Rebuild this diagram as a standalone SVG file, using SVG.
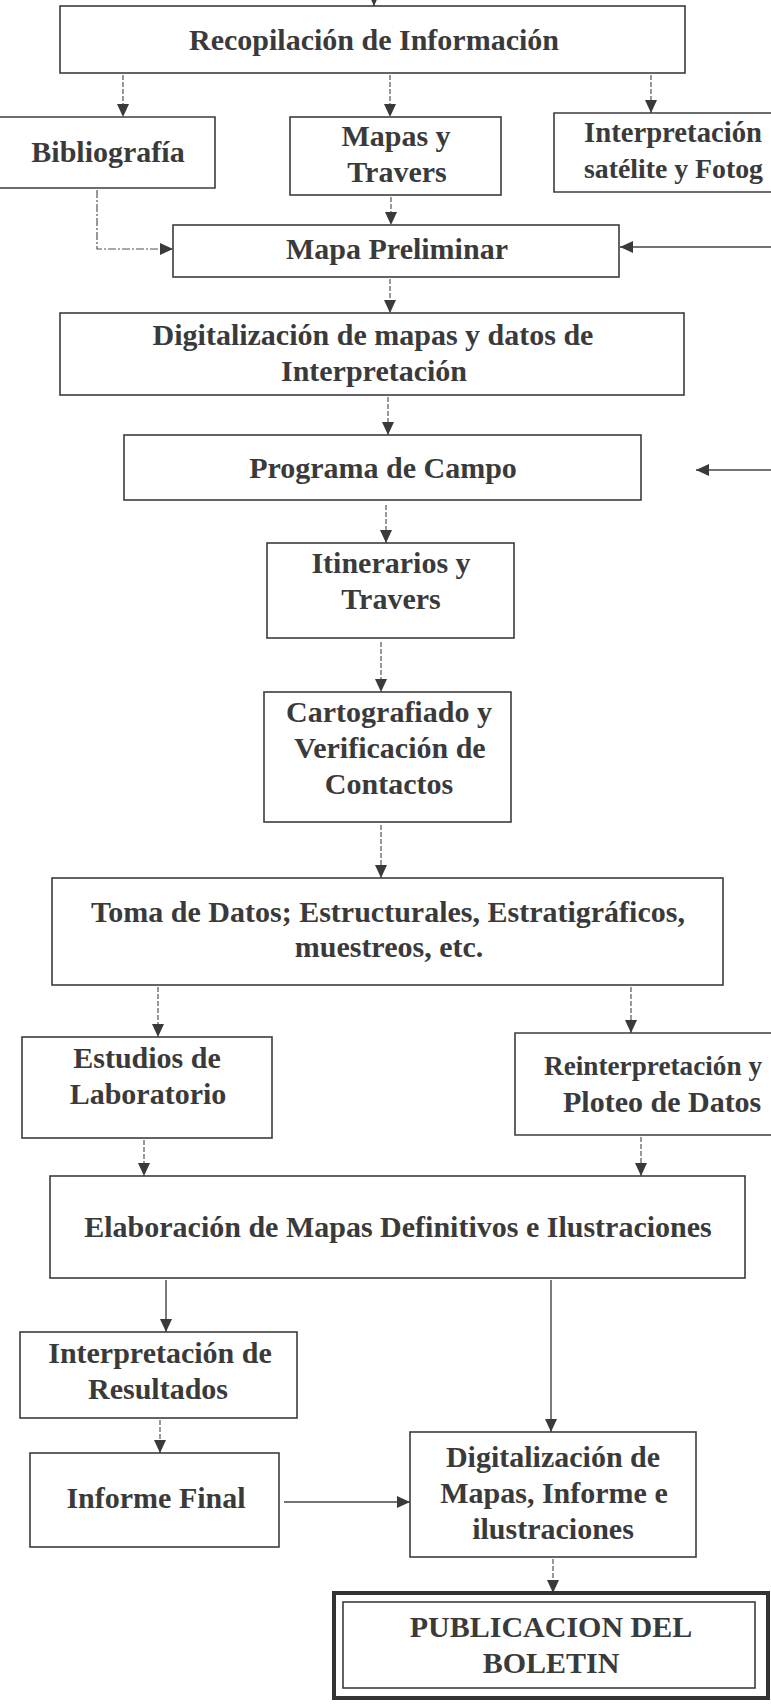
<svg xmlns="http://www.w3.org/2000/svg" width="771" height="1707" viewBox="0 0 771 1707">
<defs>
<style>
.box{fill:none;stroke:#3c3c3c;stroke-width:1.6}
.t{font-family:"Liberation Serif","Times New Roman",serif;font-weight:bold;font-size:30px;fill:#3a3a3a;text-anchor:middle}
.tl{font-family:"Liberation Serif","Times New Roman",serif;font-weight:bold;font-size:30px;fill:#3a3a3a;text-anchor:start}
.d{fill:none;stroke:#555;stroke-width:1.2;stroke-dasharray:5 2;marker-end:url(#ah)}
.dd{fill:none;stroke:#555;stroke-width:1.2;stroke-dasharray:8 2 2 2;marker-end:url(#ah)}
.s{fill:none;stroke:#444;stroke-width:1.4;marker-end:url(#ah)}
</style>
<marker id="ah" markerUnits="userSpaceOnUse" markerWidth="13" markerHeight="12" viewBox="0 0 13 12" refX="13" refY="6" orient="auto">
<path d="M0,0 L13,6 L0,12 Z" fill="#3a3a3a"/>
</marker>
</defs>
<rect width="771" height="1707" fill="#ffffff"/>

<g id="connectors">
<line class="s" x1="374" y1="-10" x2="374" y2="6"/>
<line class="d" x1="123" y1="75" x2="123" y2="117"/>
<line class="d" x1="390" y1="75" x2="390" y2="117"/>
<line class="d" x1="651" y1="75" x2="651" y2="113"/>
<line class="d" x1="391" y1="197" x2="391" y2="225"/>
<path class="dd" d="M97,190 V249 H173"/>
<line class="s" x1="771" y1="247" x2="620" y2="247"/>
<line class="d" x1="390" y1="279" x2="390" y2="313"/>
<line class="d" x1="388" y1="397" x2="388" y2="435"/>
<line class="s" x1="771" y1="470" x2="696" y2="470"/>
<line class="d" x1="386" y1="505" x2="386" y2="543"/>
<line class="d" x1="381" y1="642" x2="381" y2="692"/>
<line class="d" x1="381" y1="825" x2="381" y2="878"/>
<line class="d" x1="158" y1="987" x2="158" y2="1037"/>
<line class="d" x1="631" y1="987" x2="631" y2="1033"/>
<line class="d" x1="144" y1="1140" x2="144" y2="1176"/>
<line class="d" x1="641" y1="1137" x2="641" y2="1176"/>
<line class="s" x1="166" y1="1280" x2="166" y2="1332"/>
<line class="s" x1="551" y1="1280" x2="551" y2="1432"/>
<line class="d" x1="160" y1="1420" x2="160" y2="1453"/>
<line class="s" x1="284" y1="1502" x2="410" y2="1502"/>
<line class="d" x1="553" y1="1559" x2="553" y2="1593"/>
</g>

<g id="recopilacion">
<rect class="box" x="60" y="6" width="625" height="67"/>
<text class="t" x="374" y="50">Recopilación de Información</text>
</g>
<g id="bibliografia">
<path class="box" d="M0,117 H215 V188 H0"/>
<text class="t" x="108" y="162">Bibliografía</text>
</g>
<g id="mapas-travers">
<rect class="box" x="290" y="117" width="211" height="78"/>
<text class="t" x="396" y="146">Mapas y</text>
<text class="t" x="397" y="182">Travers</text>
</g>
<g id="interpretacion-satelite">
<path class="box" d="M771,113 H554 V192 H771"/>
<text class="tl" x="584" y="142" style="font-size:28.5px" textLength="178" lengthAdjust="spacingAndGlyphs">Interpretación</text>
<text class="tl" x="584" y="178" style="font-size:27.5px" textLength="179" lengthAdjust="spacingAndGlyphs">satélite y Fotog</text>
</g>
<g id="mapa-preliminar">
<rect class="box" x="173" y="225" width="446" height="52"/>
<text class="t" x="397" y="259">Mapa Preliminar</text>
</g>
<g id="digitalizacion-mapas-datos">
<rect class="box" x="60" y="313" width="624" height="82"/>
<text class="t" x="373" y="345">Digitalización de mapas y datos de</text>
<text class="t" x="374" y="381">Interpretación</text>
</g>
<g id="programa-campo">
<rect class="box" x="124" y="435" width="517" height="65"/>
<text class="t" x="383" y="478">Programa de Campo</text>
</g>
<g id="itinerarios">
<rect class="box" x="267" y="543" width="247" height="95"/>
<text class="t" x="391" y="573">Itinerarios y</text>
<text class="t" x="391" y="609">Travers</text>
</g>
<g id="cartografiado">
<rect class="box" x="264" y="692" width="247" height="130"/>
<text class="t" x="389" y="722">Cartografiado y</text>
<text class="t" x="390" y="758">Verificación de</text>
<text class="t" x="389" y="794">Contactos</text>
</g>
<g id="toma-datos">
<rect class="box" x="52" y="878" width="671" height="107"/>
<text class="t" x="388" y="922">Toma de Datos; Estructurales, Estratigráficos,</text>
<text class="t" x="389" y="957">muestreos, etc.</text>
</g>
<g id="estudios-laboratorio">
<rect class="box" x="22" y="1037" width="250" height="101"/>
<text class="t" x="147" y="1068">Estudios de</text>
<text class="t" x="148" y="1104">Laboratorio</text>
</g>
<g id="reinterpretacion">
<path class="box" d="M771,1033 H515 V1135 H771"/>
<text class="tl" x="544" y="1075" style="font-size:27.3px" textLength="218" lengthAdjust="spacingAndGlyphs">Reinterpretación y</text>
<text class="tl" x="563" y="1112">Ploteo de Datos</text>
</g>
<g id="elaboracion">
<rect class="box" x="50" y="1176" width="695" height="102"/>
<text class="t" x="398" y="1237">Elaboración de Mapas Definitivos e Ilustraciones</text>
</g>
<g id="interpretacion-resultados">
<rect class="box" x="20" y="1332" width="277" height="86"/>
<text class="t" x="160" y="1363">Interpretación de</text>
<text class="t" x="158" y="1399">Resultados</text>
</g>
<g id="informe-final">
<rect class="box" x="30" y="1453" width="249" height="94"/>
<text class="t" x="156" y="1508">Informe Final</text>
</g>
<g id="digitalizacion-final">
<rect class="box" x="410" y="1432" width="286" height="125"/>
<text class="t" x="553" y="1467">Digitalización de</text>
<text class="t" x="554" y="1503">Mapas, Informe e</text>
<text class="t" x="553" y="1539">ilustraciones</text>
</g>
<g id="publicacion">
<rect x="334" y="1593" width="434" height="105" fill="none" stroke="#333" stroke-width="4"/>
<rect class="box" x="343" y="1602" width="412" height="86"/>
<text class="t" x="551" y="1637">PUBLICACION DEL</text>
<text class="t" x="551" y="1673">BOLETIN</text>
</g>
</svg>
